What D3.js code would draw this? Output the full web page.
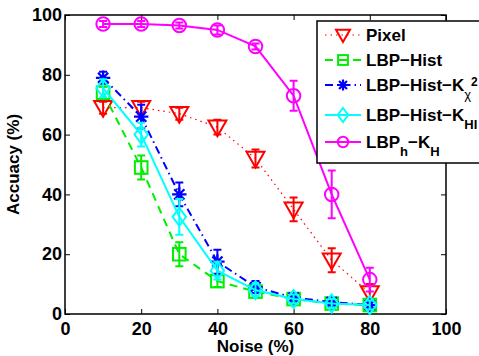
<!DOCTYPE html>
<html>
<head>
<meta charset="utf-8">
<script src="https://cdn.jsdelivr.net/npm/d3@7"></script>
<style>
  body { margin: 0; background: #fff; }
  svg { font-family: "Liberation Sans", Arial, sans-serif; font-weight: bold; }
</style>
</head>
<body>
<svg id="chart" width="479" height="356"></svg>
<script>
// Noise levels (%)
const noise = [10, 20, 30, 40, 50, 60, 70, 80];

// Accuracy (%) and error bars per method
const pixel = [69, 69, 67, 62.5, 52, 35, 18, 7];
const pixelErr = [2, 2, 2, 2.5, 3, 4, 4, 3];
const lbpHist = [74, 49, 20, 11, 7.5, 5, 3.5, 3];
const lbpHistErr = [2, 4, 4, 2, 2, 1, 1, 1];
const lbpChi = [79, 66, 40, 17.5, 9, 5.5, 4, 3];
const lbpChiErr = [2, 4, 4, 4, 2, 1, 1, 1];
const lbpHI = [75.5, 60, 32.5, 14.5, 8, 5, 3.5, 3];
const lbpHIErr = [3, 4, 6, 3, 2, 1.5, 1.5, 1.5];
const lbpH = [97, 97, 96.5, 95, 89.5, 73, 40, 11.5];
const lbpHErr = [1, 1, 1, 1.5, 1, 5, 8, 4];

const xTicks = [0, 20, 40, 60, 80, 100];
const yTicks = [0, 20, 40, 60, 80, 100];

const series = [
  { name: "Pixel", values: pixel, err: pixelErr, color: "#ff0000", dash: "1.5,4", width: 1.2, marker: "tri" },
  { name: "LBP-Hist", values: lbpHist, err: lbpHistErr, color: "#00ee00", dash: "8,6", width: 2, marker: "square" },
  { name: "LBP-Hist-Kchi", values: lbpChi, err: lbpChiErr, color: "#0000ff", dash: "8,4,1.5,4", width: 2, marker: "star" },
  { name: "LBP-Hist-KHI", values: lbpHI, err: lbpHIErr, color: "#00ffff", dash: null, width: 2, marker: "diamond" },
  { name: "LBPh-KH", values: lbpH, err: lbpHErr, color: "#ff00ff", dash: null, width: 2, marker: "circle" },
];

const svg = d3.select("#chart");
const pLeft = 65, pRight = 446, pTop = 15, pBottom = 314;

const x = d3.scaleLinear().domain([0, 100]).range([pLeft, pRight]);
const y = d3.scaleLinear().domain([0, 100]).range([pBottom, pTop]);

const styleLabels = g => g.selectAll("text")
  .attr("font-size", 18).attr("font-weight", "bold")
  .attr("font-family", "Liberation Sans, Arial, sans-serif").attr("fill", "#000");

// Axes with inward ticks (Matlab style)
svg.append("g")
  .attr("transform", `translate(0,${pBottom})`)
  .call(d3.axisBottom(x).tickValues(xTicks).tickSizeInner(-5).tickSizeOuter(0).tickPadding(8))
  .call(g => g.select(".domain").remove())
  .call(styleLabels);

svg.append("g")
  .attr("transform", `translate(${pLeft},0)`)
  .call(d3.axisLeft(y).tickValues(yTicks).tickSizeInner(-5).tickSizeOuter(0).tickPadding(3))
  .call(g => g.select(".domain").remove())
  .call(styleLabels);

svg.append("g")
  .attr("transform", `translate(0,${pTop})`)
  .call(d3.axisTop(x).tickValues(xTicks).tickSizeInner(-5).tickSizeOuter(0).tickFormat(""))
  .call(g => g.select(".domain").remove());

svg.append("g")
  .attr("transform", `translate(${pRight},0)`)
  .call(d3.axisRight(y).tickValues(yTicks).tickSizeInner(-5).tickSizeOuter(0).tickFormat(""))
  .call(g => g.select(".domain").remove());

svg.append("rect")
  .attr("x", pLeft).attr("y", pTop)
  .attr("width", pRight - pLeft).attr("height", pBottom - pTop)
  .attr("fill", "none").attr("stroke", "#000").attr("stroke-width", 1.5);

// Axis labels
svg.append("text")
  .attr("x", (pLeft + pRight) / 2).attr("y", 352)
  .attr("text-anchor", "middle").attr("font-size", 17)
  .text("Noise  (%)");

svg.append("text")
  .attr("transform", `translate(19,${(pTop + pBottom) / 2}) rotate(-90)`)
  .attr("text-anchor", "middle").attr("font-size", 17)
  .text("Accuacy  (%)");

// Marker drawing
const drawMarker = (g, type, cx, cy, color, s) => {
  if (type === "tri") {
    g.append("path").attr("d", `M${cx - s},${cy - s * 0.75} L${cx + s},${cy - s * 0.75} L${cx},${cy + s} Z`)
      .attr("fill", "none").attr("stroke", color).attr("stroke-width", 2);
  } else if (type === "square") {
    g.append("rect").attr("x", cx - s * 0.7).attr("y", cy - s * 0.7).attr("width", s * 1.4).attr("height", s * 1.4)
      .attr("fill", "none").attr("stroke", color).attr("stroke-width", 2);
  } else if (type === "star") {
    const r = s * 0.8;
    const d = [0, 45, 90, 135].map(a => {
      const rad = a * Math.PI / 180;
      return `M${cx - r * Math.cos(rad)},${cy - r * Math.sin(rad)} L${cx + r * Math.cos(rad)},${cy + r * Math.sin(rad)}`;
    }).join(" ");
    g.append("path").attr("d", d).attr("stroke", color).attr("stroke-width", 2.2);
  } else if (type === "diamond") {
    g.append("path").attr("d", `M${cx},${cy - s} L${cx + s * 0.75},${cy} L${cx},${cy + s} L${cx - s * 0.75},${cy} Z`)
      .attr("fill", "none").attr("stroke", color).attr("stroke-width", 2);
  } else if (type === "circle") {
    g.append("circle").attr("cx", cx).attr("cy", cy).attr("r", s * 0.75)
      .attr("fill", "none").attr("stroke", color).attr("stroke-width", 2);
  }
};

// Plot series
series.forEach(s => {
  const g = svg.append("g");
  const pts = noise.map((n, i) => [n, s.values[i], s.err[i]]);
  const line = d3.line().x(d => x(d[0])).y(d => y(d[1]));
  g.append("path").datum(pts).attr("d", line)
    .attr("fill", "none").attr("stroke", s.color)
    .attr("stroke-width", s.width)
    .attr("stroke-dasharray", s.dash);
  pts.forEach(d => {
    const cx = x(d[0]);
    const y0 = y(d[1] - d[2]), y1 = y(d[1] + d[2]);
    g.append("path")
      .attr("d", `M${cx},${y0} L${cx},${y1} M${cx - 4},${y0} L${cx + 4},${y0} M${cx - 4},${y1} L${cx + 4},${y1}`)
      .attr("stroke", s.color).attr("stroke-width", 2).attr("fill", "none");
    drawMarker(g, s.marker, cx, y(d[1]), s.color, 9);
  });
});

// Legend
const legend = svg.append("g");
legend.append("rect")
  .attr("x", 317).attr("y", 21).attr("width", 200).attr("height", 142)
  .attr("fill", "#fff").attr("stroke", "#000").attr("stroke-width", 1.5);

const legendY = [35, 60, 85, 115, 142];
series.forEach((s, i) => {
  const ly = legendY[i];
  legend.append("line").attr("x1", 325).attr("x2", 361).attr("y1", ly).attr("y2", ly)
    .attr("stroke", s.color).attr("stroke-width", s.width).attr("stroke-dasharray", s.dash);
  drawMarker(legend, s.marker, 343, ly, s.color, 7);
});

const lt = (yy) => legend.append("text").attr("x", 366).attr("y", yy).attr("font-size", 17);
lt(41).text("Pixel");
lt(66).text("LBP\u2212Hist");
const t3 = lt(91);
t3.append("tspan").text("LBP\u2212Hist\u2212K");
t3.append("tspan").attr("dy", 8).attr("font-size", 13).attr("font-weight", "normal").text("\u03c7");
t3.append("tspan").attr("dy", -13).attr("font-size", 12).text("2");
const t4 = lt(121);
t4.append("tspan").text("LBP\u2212Hist\u2212K");
t4.append("tspan").attr("dy", 8).attr("font-size", 13).text("HI");
const t5 = lt(148);
t5.append("tspan").text("LBP");
t5.append("tspan").attr("dy", 8).attr("font-size", 13).text("h");
t5.append("tspan").attr("dy", -8).text("\u2212K");
t5.append("tspan").attr("dy", 8).attr("font-size", 13).text("H");
</script>
</body>
</html>
